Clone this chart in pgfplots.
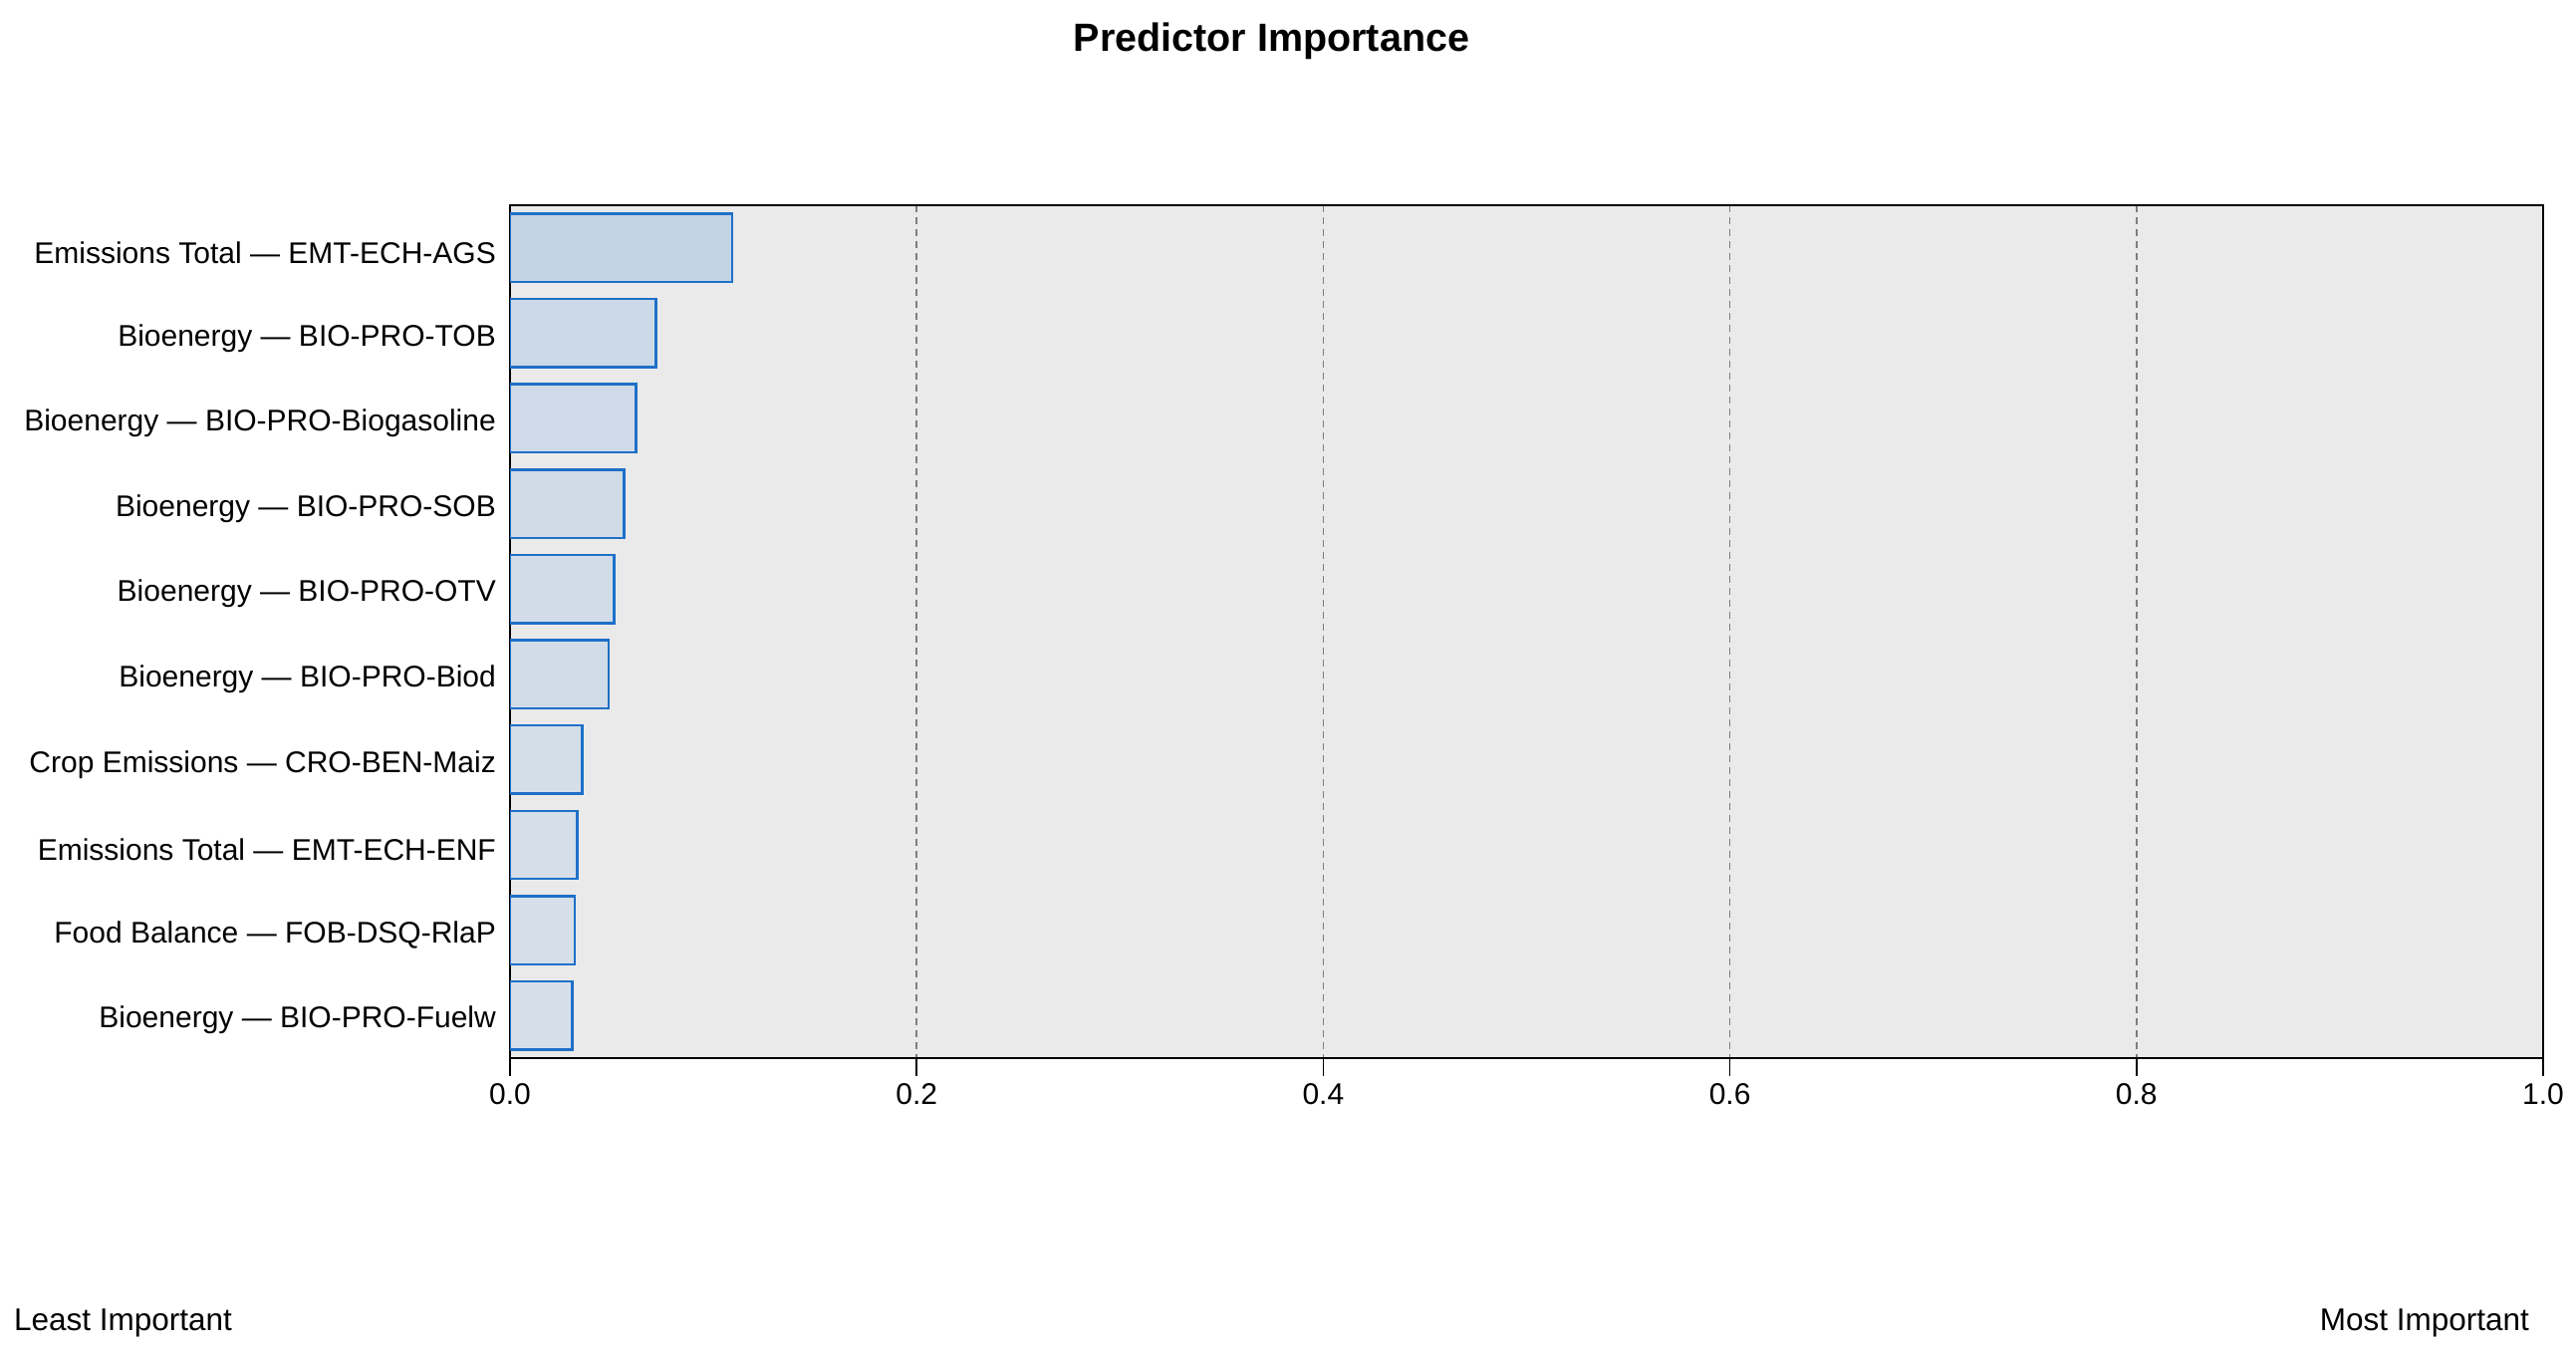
\documentclass[border=0pt]{standalone}
\usepackage{fontspec}
\setmainfont{Liberation Sans}
\usepackage{pgfplots}
\pgfplotsset{compat=1.18}

\definecolor{barline}{RGB}{30,112,200}
\definecolor{panel}{RGB}{234,234,234}
\definecolor{gridc}{RGB}{125,125,125}
\definecolor{b1}{RGB}{196,212,230}
\definecolor{b2}{RGB}{204,217,231}
\definecolor{b3}{RGB}{207,218,232}
\definecolor{b4}{RGB}{208,219,232}
\definecolor{b5}{RGB}{209,220,232}
\definecolor{b6}{RGB}{210,220,232}
\definecolor{b7}{RGB}{212,222,233}
\definecolor{b8}{RGB}{213,222,233}
\definecolor{b9}{RGB}{213,222,233}
\definecolor{b10}{RGB}{214,223,233}

\begin{document}
\begin{tikzpicture}
\path[use as bounding box] (0,0) rectangle (517.2pt,-271.8pt);
\begin{axis}[
  at={(102.4pt,-41.2pt)}, anchor=north west,
  scale only axis, width=408.2pt, height=171.2pt,
  xbar, bar width=0.8, bar shift=0pt,
  xmin=0, xmax=1, ymin=0.5, ymax=10.5, y dir=reverse,
  axis background/.style={fill=panel},
  axis line style={black, line width=0.5pt},
  xtick={0,0.2,0.4,0.6,0.8,1.0},
  xtick pos=bottom, tick align=outside, major tick length=3.6pt,
  xtick style={black, line width=0.3pt},
  xmajorgrids, grid style={gridc, dash pattern=on 1.4pt off 1pt, line width=0.3pt},
  ytick={1,...,10}, ytick style={draw=none},
  yticklabels={Emissions Total — EMT-ECH-AGS, Bioenergy — BIO-PRO-TOB,
    Bioenergy — BIO-PRO-Biogasoline, Bioenergy — BIO-PRO-SOB,
    Bioenergy — BIO-PRO-OTV, Bioenergy — BIO-PRO-Biod,
    Crop Emissions — CRO-BEN-Maiz, Emissions Total — EMT-ECH-ENF,
    Food Balance — FOB-DSQ-RlaP, Bioenergy — BIO-PRO-Fuelw},
  tick label style={font=\fontsize{6}{7}\selectfont},
  yticklabel style={xshift=4.3pt, yshift=-1pt},
  /pgf/number format/assume math mode=true,
  xticklabel style={yshift=2pt, /pgf/number format/.cd, fixed, fixed zerofill, precision=1},
  every axis plot/.append style={draw=barline, line width=0.5pt},
]
\addplot[fill=b1] coordinates {(0.1093,1)};
\addplot[fill=b2] coordinates {(0.0719,2)};
\addplot[fill=b3] coordinates {(0.0619,3)};
\addplot[fill=b4] coordinates {(0.0561,4)};
\addplot[fill=b5] coordinates {(0.0511,5)};
\addplot[fill=b6] coordinates {(0.0486,6)};
\addplot[fill=b7] coordinates {(0.0356,7)};
\addplot[fill=b8] coordinates {(0.0331,8)};
\addplot[fill=b9] coordinates {(0.0318,9)};
\addplot[fill=b10] coordinates {(0.0306,10)};
\end{axis}
\node[anchor=base, font=\fontsize{7.9}{9}\selectfont\bfseries] at (255.3pt,-10.4pt) {Predictor Importance};
\node[anchor=base west, inner sep=0pt, font=\fontsize{6.3}{7}\selectfont] at (2.6pt,-267.2pt) {Least Important};
\node[anchor=base east, inner sep=0pt, font=\fontsize{6.3}{7}\selectfont] at (508pt,-267.2pt) {Most Important};
\end{tikzpicture}
\end{document}
